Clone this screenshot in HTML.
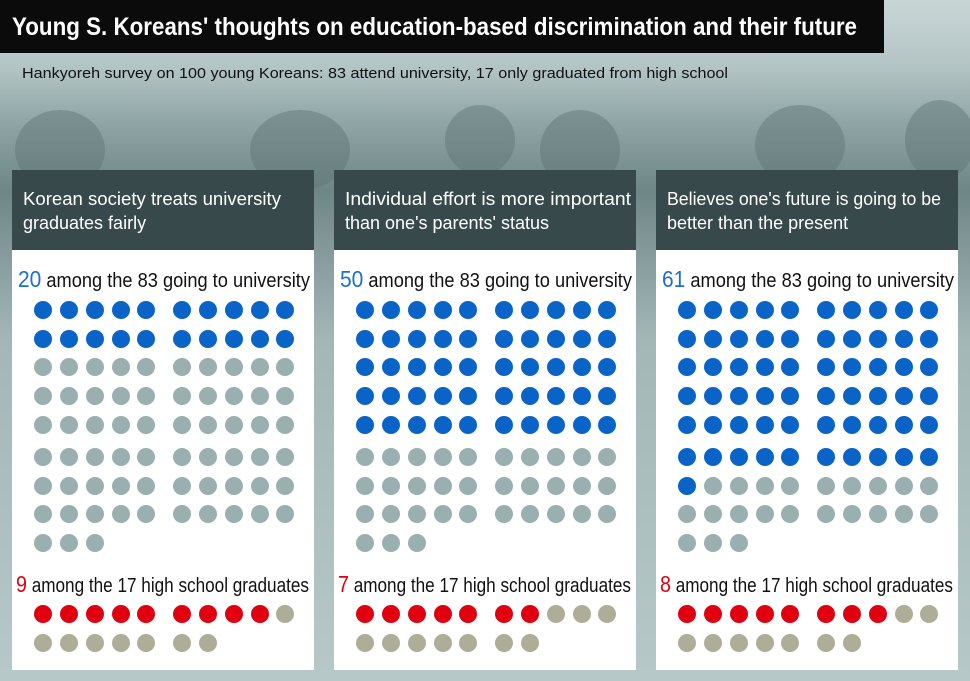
<!DOCTYPE html>
<html><head><meta charset="utf-8"><style>
html,body{margin:0;padding:0;background:#9fb5b5;}
svg{display:block;font-family:"Liberation Sans",sans-serif;}
</style></head><body>
<svg id="s" width="970" height="681" viewBox="0 0 970 681" xmlns="http://www.w3.org/2000/svg">
<defs>
<linearGradient id="bg" x1="0" y1="0" x2="0" y2="1">
<stop offset="0" stop-color="#c9d6d6"/>
<stop offset="0.10" stop-color="#b3c4c4"/>
<stop offset="0.18" stop-color="#8fa5a6"/>
<stop offset="0.28" stop-color="#6f8687"/>
<stop offset="0.5" stop-color="#a3b7b7"/>
<stop offset="1" stop-color="#b6c8c8"/>
</linearGradient>
</defs>
<rect width="970" height="681" fill="url(#bg)"/>
<g fill="#5e7374" opacity="0.45">
<ellipse cx="60" cy="150" rx="45" ry="40"/>
<ellipse cx="300" cy="150" rx="50" ry="40"/>
<ellipse cx="480" cy="140" rx="35" ry="35"/>
<ellipse cx="580" cy="150" rx="40" ry="40"/>
<ellipse cx="800" cy="145" rx="45" ry="40"/>
<ellipse cx="940" cy="140" rx="35" ry="40"/>
</g>
<rect x="0" y="0" width="884" height="53" fill="#0b0b0b"/>
<text x="12" y="35" fill="#fff" font-size="25" font-weight="bold" textLength="845" lengthAdjust="spacingAndGlyphs">Young S. Koreans' thoughts on education-based discrimination and their future</text>
<text x="22" y="78" fill="#111" font-size="15" font-family="Liberation Sans, sans-serif" textLength="706" lengthAdjust="spacingAndGlyphs">Hankyoreh survey on 100 young Koreans: 83 attend university, 17 only graduated from high school</text>
<g id="panels"></g>
</svg>
<script>
var g=document.getElementById('panels');
var ns='http://www.w3.org/2000/svg';
function el(t,a,txt){var e=document.createElementNS(ns,t);for(var k in a)e.setAttribute(k,a[k]);if(txt)e.textContent=txt;g.appendChild(e);return e;}
var P=[
 {l1:"Korean society treats university",l2:"graduates fairly",u:20,h:9,w1:258},
 {l1:"Individual effort is more important",l2:"than one's parents' status",u:50,h:7,w1:286},
 {l1:"Believes one's future is going to be",l2:"better than the present",u:61,h:8,w1:274}
];
var cx=[43,69,95,121,146,182,208,234,260,285];
var ry=[310,339,367,396,425,457,486,514,543];
P.forEach(function(p,i){
 var o=[0,322,644][i];
 el('rect',{x:12+o,y:170,width:302,height:80,fill:'#37494a'});
 el('rect',{x:12+o,y:250,width:302,height:420,fill:'#fff'});
 el('text',{x:23+o,y:205,fill:'#fff','font-size':18,textLength:p.w1,lengthAdjust:'spacingAndGlyphs'},p.l1);
 el('text',{x:23+o,y:229,fill:'#fff','font-size':18},p.l2);
 var t=el('text',{x:18+o,y:287,'font-size':20,fill:'#111',textLength:292,lengthAdjust:'spacingAndGlyphs'});
 t.innerHTML='<tspan fill="#1a6fd0" font-size="23">'+p.u+'</tspan> among the 83 going to university';
 var t2=el('text',{x:16+o,y:592,'font-size':20,fill:'#111',textLength:293,lengthAdjust:'spacingAndGlyphs'});
 t2.innerHTML='<tspan fill="#e00010" font-size="23">'+p.h+'</tspan> among the 17 high school graduates';
 for(var n=0;n<83;n++){var r=Math.floor(n/10),c=n%10;
  el('circle',{cx:cx[c]+o,cy:ry[r],r:9,fill:n<p.u?'#0a64c8':'#9aafb0'});}
 for(var n=0;n<17;n++){var r=Math.floor(n/10),c=n%10;
  el('circle',{cx:cx[c]+o,cy:[614,643][r],r:9,fill:n<p.h?'#e00010':'#aeae98'});}
});
</script>
</body></html>
